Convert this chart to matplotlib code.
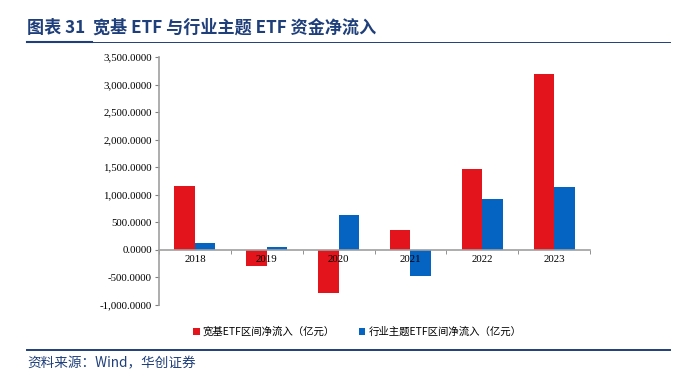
import numpy as np
import matplotlib.pyplot as plt
from matplotlib.lines import Line2D

plt.rcParams['font.family'] = ['Noto Sans CJK SC', 'DejaVu Sans']

years = ['2018', '2019', '2020', '2021', '2022', '2023']
broad = [1164, -285, -790, 355, 1467, 3188]
sector = [116, 45, 625, -475, 916, 1150]
yticks = np.arange(-1000, 3501, 500)

red = '#E3141C'
blue = '#0563C1'
navy = '#1F3F7A'

fig = plt.figure(figsize=(6.79, 3.79), dpi=100)
ax = fig.add_axes([159/679, 1-305/379, 431/679, 248/379])

# spine position first, it resets the ticks
for s in ['top', 'right']:
    ax.spines[s].set_visible(False)
ax.spines['bottom'].set_position(('data', 0))
for s in ['bottom', 'left']:
    ax.spines[s].set_color('#A0A0A0')
    ax.spines[s].set_linewidth(1.2)

x = np.arange(len(years))
w = 0.285
ax.bar(x - w/2, broad, w, color=red, label='宽基ETF区间净流入（亿元）')
ax.bar(x + w/2, sector, w, color=blue, label='行业主题ETF区间净流入（亿元）')

ax.set_xlim(-0.5, len(years) - 0.5)
ax.set_ylim(-1000, 3500)
ax.set_yticks(yticks)
ax.set_yticklabels([f'{v:,.4f}' for v in yticks], family='Liberation Serif', fontsize=7.8)
ax.set_xticks(x)
ax.set_xticklabels(years, family='Liberation Serif', fontsize=7.8)
ax.set_xticks(np.arange(-0.5, len(years)), minor=True)
ax.tick_params(axis='x', which='major', length=0, pad=4)
ax.tick_params(axis='x', which='minor', length=3, color='#808080', direction='out')
ax.tick_params(axis='y', length=3, color='#808080', pad=2)

ax.legend(loc='upper center', bbox_to_anchor=(0.46, -0.05), ncol=2, frameon=False,
          fontsize=7.5, handlelength=0.6, handleheight=0.6, handletextpad=0.3,
          columnspacing=2.3)

# title and footer
fig.text(27/679, 1-28/379, '图表 31  宽基 ETF 与行业主题 ETF 资金净流入', color=navy,
         fontsize=12.3, fontweight='bold', va='center', ha='left')
fig.add_artist(Line2D([27/679, 670/679], [1-42/379, 1-42/379], color=navy, lw=0.7))
fig.add_artist(Line2D([27/679, 92/679], [1-42/379, 1-42/379], color=navy, lw=1.5))
fig.add_artist(Line2D([27/679, 670/679], [1-350/379, 1-350/379], color=navy, lw=1.4))
fig.text(27/679, 1-363/379, '资料来源：Wind，华创证券', color=navy, fontsize=9.8,
         style='italic', va='center', ha='left')

fig.savefig('out.png', dpi=100)
